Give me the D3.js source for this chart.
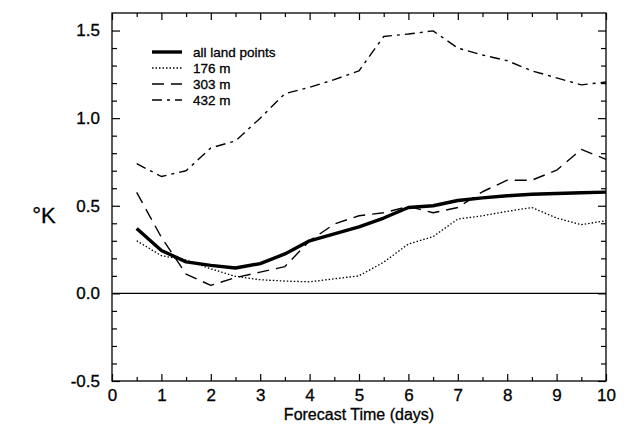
<!DOCTYPE html>
<html lang="en">
<head>
  <meta charset="UTF-8">
  <title>Forecast error by elevation</title>
  <script src="https://d3js.org/d3.v7.min.js"></script>
  <style>
    body { margin: 0; background: white; }
    svg { font-family: "Liberation Sans", Arial, Helvetica, sans-serif; }
    svg text { stroke: black; stroke-width: 0.3px; }
    .frame { fill: none; stroke: black; stroke-width: 1.3px; }
    .tick line { stroke: black; stroke-width: 1.2px; }
    .domain { display: none; }
    .series { fill: none; stroke: black; stroke-linejoin: round; }
  </style>
</head>
<body>
<svg id="chart"></svg>
<script>
// forecast time (days), every 12 h
const days = [0.5, 1, 1.5, 2, 2.5, 3, 3.5, 4, 4.5, 5, 5.5, 6, 6.5, 7, 7.5, 8, 8.5, 9, 9.5, 10];

// series values (K)
const allLand = [0.37, 0.245, 0.18, 0.16, 0.145, 0.17, 0.225, 0.30, 0.34, 0.38,
                 0.43, 0.49, 0.50, 0.53, 0.545, 0.557, 0.566, 0.57, 0.574, 0.578];
const m176 = [0.30, 0.215, 0.19, 0.14, 0.097, 0.078, 0.07, 0.066, 0.083, 0.10,
              0.178, 0.282, 0.324, 0.424, 0.443, 0.468, 0.49, 0.43, 0.392, 0.415];
const m303 = [0.576, 0.32, 0.11, 0.046, 0.09, 0.121, 0.153, 0.30, 0.396, 0.443,
              0.46, 0.496, 0.46, 0.49, 0.58, 0.646, 0.646, 0.703, 0.822, 0.765];
const m432 = [0.74, 0.667, 0.70, 0.83, 0.87, 1.0, 1.14, 1.176, 1.22, 1.27,
              1.466, 1.48, 1.498, 1.40, 1.36, 1.328, 1.27, 1.23, 1.19, 1.206];

const seriesNames = ["all land points", "176 m", "303 m", "432 m"];

// tick labels
const xTicks = [0, 1, 2, 3, 4, 5, 6, 7, 8, 9, 10];
const xMinor = [0.5, 1.5, 2.5, 3.5, 4.5, 5.5, 6.5, 7.5, 8.5, 9.5];
const yTicks = [-0.5, 0.0, 0.5, 1.0, 1.5];
const yMinor = [-0.4, -0.3, -0.2, -0.1, 0.1, 0.2, 0.3, 0.4, 0.6, 0.7, 0.8, 0.9,
                1.1, 1.2, 1.3, 1.4];

const W = 629, H = 427;
const mLeft = 112, mRight = 606, mTop = 13, mBottom = 381;

const svg = d3.select("#chart").attr("width", W).attr("height", H);

const x = d3.scaleLinear().domain([0, 10]).range([mLeft, mRight]);
const y = d3.scaleLinear().domain([-0.5, 1.6]).range([mBottom, mTop]);

// ticks point inward on all four sides
function addAxis(axisFn, scale, values, size, pos, labels, pad) {
  const a = axisFn(scale).tickValues(values).tickSizeInner(-size).tickSizeOuter(0);
  if (labels) a.tickFormat(labels).tickPadding(pad);
  else a.tickFormat("");
  const g = svg.append("g").attr("transform", pos).call(a);
  g.selectAll("text").attr("fill", "black").style("font-size", "17px");
  return g;
}
addAxis(d3.axisLeft, y, yTicks, 8, `translate(${mLeft},0)`, d => d.toFixed(1), 12);
addAxis(d3.axisLeft, y, yMinor, 5, `translate(${mLeft},0)`, null);
addAxis(d3.axisRight, y, yTicks, 8, `translate(${mRight},0)`, null);
addAxis(d3.axisRight, y, yMinor, 5, `translate(${mRight},0)`, null);
addAxis(d3.axisBottom, x, xTicks, 7, `translate(0,${mBottom})`, d => String(d), 8);
addAxis(d3.axisBottom, x, xMinor, 4, `translate(0,${mBottom})`, null);
addAxis(d3.axisTop, x, xTicks, 7, `translate(0,${mTop})`, null);
addAxis(d3.axisTop, x, xMinor, 4, `translate(0,${mTop})`, null);

svg.append("rect").attr("class", "frame")
  .attr("x", mLeft).attr("y", mTop)
  .attr("width", mRight - mLeft).attr("height", mBottom - mTop);

// zero line
svg.append("line")
  .attr("x1", mLeft).attr("x2", mRight)
  .attr("y1", y(0)).attr("y2", y(0))
  .attr("stroke", "black").attr("stroke-width", 1.2);

const styles = [
  { w: 3.4, dash: null },
  { w: 1.3, dash: "1.5,2" },
  { w: 1.4, dash: "12,7" },
  { w: 1.4, dash: "10,5,3,5" }
];
const allSeries = [allLand, m176, m303, m432];

const line = d3.line().x(d => x(d[0])).y(d => y(d[1]));

svg.selectAll(".series")
  .data(allSeries)
  .join("path")
  .attr("class", "series")
  .attr("d", vals => line(days.map((d, i) => [d, vals[i]])))
  .attr("stroke-width", (d, i) => styles[i].w)
  .attr("stroke-dasharray", (d, i) => styles[i].dash);

// legend
const leg = svg.append("g");
seriesNames.forEach((name, i) => {
  const ly = 52 + i * 16;
  leg.append("line")
    .attr("x1", 152).attr("x2", 182).attr("y1", ly).attr("y2", ly)
    .attr("stroke", "black")
    .attr("stroke-width", styles[i].w)
    .attr("stroke-dasharray", styles[i].dash);
  leg.append("text")
    .attr("x", 193).attr("y", ly + 5)
    .style("font-size", "13.5px")
    .text(name);
});

// axis titles
svg.append("text")
  .attr("x", (mLeft + mRight) / 2).attr("y", 420)
  .attr("text-anchor", "middle")
  .style("font-size", "16px")
  .text("Forecast Time (days)");

svg.append("text")
  .attr("x", 44).attr("y", 223)
  .attr("text-anchor", "middle")
  .style("font-size", "22px")
  .text("°K");
</script>
</body>
</html>
